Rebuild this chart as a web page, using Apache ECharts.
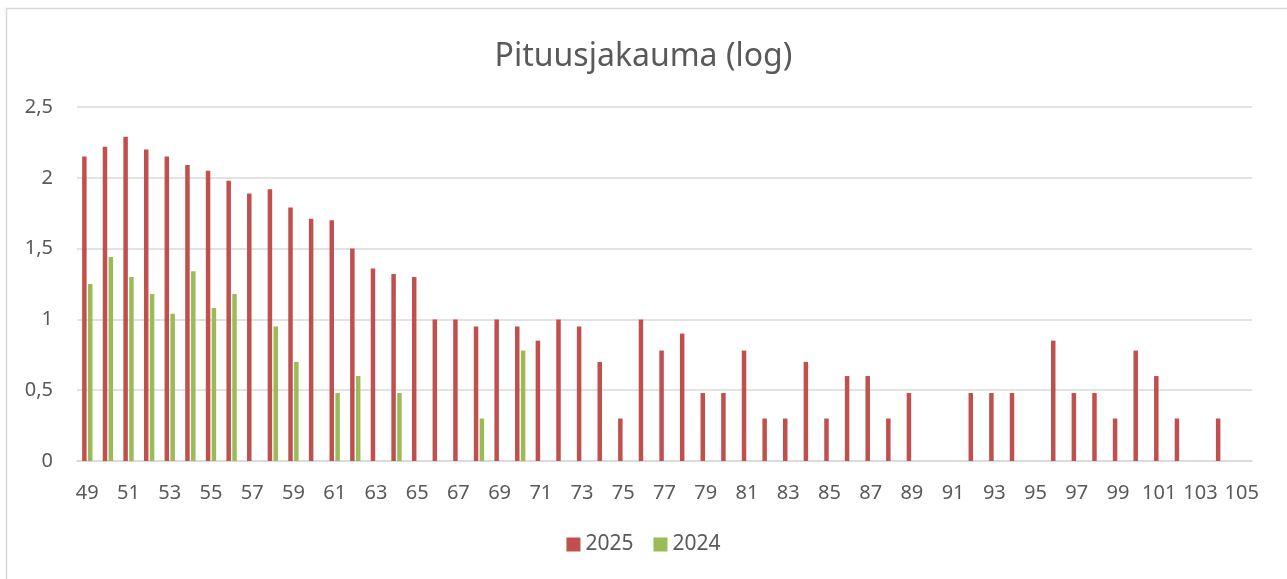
<!DOCTYPE html>
<html>
<head>
<meta charset="utf-8">
<title>Pituusjakauma (log)</title>
<script src="https://cdn.jsdelivr.net/npm/echarts@6/dist/echarts.min.js"></script>
<style>
  html, body { margin: 0; padding: 0; background: #fff; }
  #chart { width: 1287px; height: 579px; }
</style>
</head>
<body>
<div id="chart"></div>
<script>
// pituusluokat (cm)
var categories = ['49', '50', '51', '52', '53', '54', '55', '56', '57', '58',
  '59', '60', '61', '62', '63', '64', '65', '66', '67', '68',
  '69', '70', '71', '72', '73', '74', '75', '76', '77', '78',
  '79', '80', '81', '82', '83', '84', '85', '86', '87', '88',
  '89', '90', '91', '92', '93', '94', '95', '96', '97', '98',
  '99', '100', '101', '102', '103', '104', '105'];

// log10 of counts
var values2025 = [2.15, 2.22, 2.29, 2.2, 2.15, 2.09, 2.05, 1.98, 1.89, 1.92,
  1.79, 1.71, 1.7, 1.5, 1.36, 1.32, 1.3, 1, 1, 0.95,
  1, 0.95, 0.85, 1, 0.95, 0.7, 0.3, 1, 0.78, 0.9,
  0.48, 0.48, 0.78, 0.3, 0.3, 0.7, 0.3, 0.6, 0.6, 0.3,
  0.48, null, null, 0.48, 0.48, 0.48, null, 0.85, 0.48, 0.48,
  0.3, 0.78, 0.6, 0.3, null, 0.3, null];

var values2024 = [1.25, 1.44, 1.3, 1.18, 1.04, 1.34, 1.08, 1.18, null, 0.95,
  0.7, null, 0.48, 0.6, null, 0.48, null, null, null, 0.3,
  null, 0.78, null, null, null, null, null, null, null, null,
  null, null, null, null, null, null, null, null, null, null,
  null, null, null, null, null, null, null, null, null, null,
  null, null, null, null, null, null, null];

var yTicks = { min: 0, max: 2.5, step: 0.5 };

var chart = echarts.init(document.getElementById('chart'));
var textColor = '#595959';
var font = '"Noto Sans", sans-serif';

var option = {
  animation: false,
  textStyle: { fontFamily: font },
  title: {
    text: 'Pituusjakauma (log)',
    left: 'center',
    top: 36,
    textStyle: { color: textColor, fontSize: 32, fontWeight: 'normal', fontFamily: font }
  },
  legend: {
    bottom: 19,
    left: 'center',
    itemWidth: 14,
    itemHeight: 14,
    itemGap: 20,
    icon: 'rect',
    textStyle: { color: textColor, fontSize: 21, fontFamily: font },
    data: ['2025', '2024']
  },
  grid: {
    left: 77,
    right: 35,
    top: 107,
    bottom: 118,
    containLabel: false
  },
  xAxis: {
    type: 'category',
    data: categories,
    axisTick: { show: false },
    axisLine: { lineStyle: { color: '#d9d9d9', width: 1.5 } },
    axisLabel: {
      interval: 1,
      color: textColor,
      fontSize: 20,
      margin: 22
    }
  },
  yAxis: {
    type: 'value',
    min: yTicks.min,
    max: yTicks.max,
    interval: yTicks.step,
    axisLine: { show: false },
    axisTick: { show: false },
    splitLine: { lineStyle: { color: '#d9d9d9', width: 1.5 } },
    axisLabel: {
      color: textColor,
      fontSize: 20,
      margin: 24,
      formatter: function (v) { return String(v).replace('.', ','); }
    }
  },
  series: [
    {
      name: '2025',
      type: 'bar',
      data: values2025,
      barWidth: 4.5,
      barGap: '30%',
      itemStyle: { color: '#c0504d' }
    },
    {
      name: '2024',
      type: 'bar',
      data: values2024,
      barWidth: 4.5,
      itemStyle: { color: '#9bbb59' }
    }
  ],
  graphic: [
    {
      type: 'rect',
      silent: true,
      shape: { x: 6.5, y: 8.5, width: 1400, height: 700 },
      style: { fill: 'none', stroke: '#d9d9d9', lineWidth: 1.5 }
    }
  ]
};

chart.setOption(option);

window.addEventListener('resize', function () {
  chart.resize();
});
</script>
</body>
</html>
